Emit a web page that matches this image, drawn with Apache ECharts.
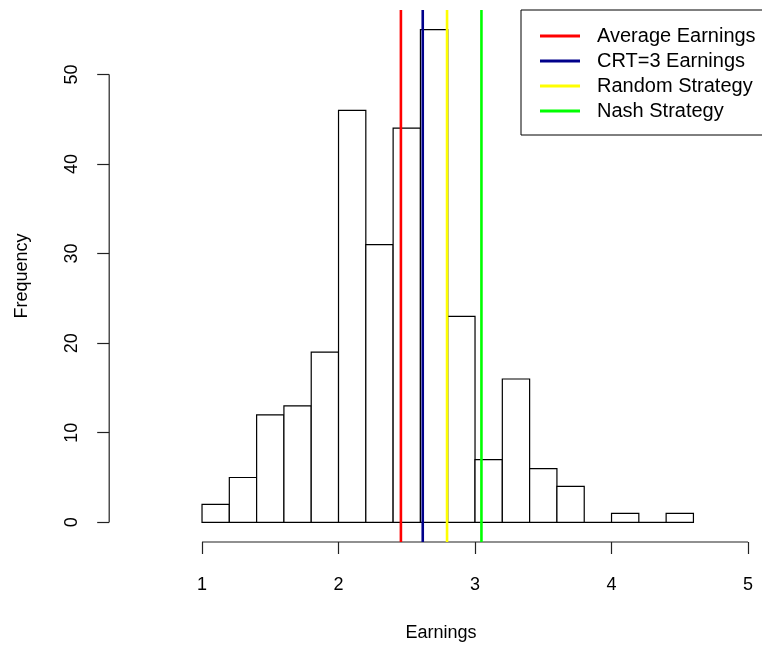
<!DOCTYPE html>
<html>
<head>
<meta charset="utf-8">
<script src="https://cdn.jsdelivr.net/npm/echarts@6/dist/echarts.min.js"></script>
<style>
html,body{margin:0;padding:0;background:#fff;overflow:hidden;}
#chart{width:800px;height:647px;}
</style>
</head>
<body>
<div id="chart"></div>
<script>
// Histogram bins (Earnings) and counts
const binStarts = [1.0,1.2,1.4,1.6,1.8,2.0,2.2,2.4,2.6,2.8,3.0,3.2,3.4,3.6,3.8,4.0,4.2,4.4];
const binEnds   = [1.2,1.4,1.6,1.8,2.0,2.2,2.4,2.6,2.8,3.0,3.2,3.4,3.6,3.8,4.0,4.2,4.4,4.6];
const counts    = [2,5,12,13,19,46,31,44,55,23,7,16,6,4,0,1,0,1];

// Reference lines
const refNames  = ['Average Earnings','CRT=3 Earnings','Random Strategy','Nash Strategy'];
const refValues = [2.457, 2.617, 2.795, 3.047];
const refColors = ['#ff0000','#00008b','#ffff00','#00ff00'];

// Axis ticks
const xTicks = [1,2,3,4,5];
const yTicks = [0,10,20,30,40,50];

const xMin = 0.32, xMax = 5.18;
const yMin = -2.2, yMax = 57.2;
const FONT = 'Liberation Sans, Arial, Helvetica, sans-serif';

const chart = echarts.init(document.getElementById('chart'), null, {renderer:'canvas'});

const barData = binStarts.map((s,i)=>[s, binEnds[i], counts[i]]);

const series = [
  {
    type:'custom',
    name:'hist',
    data: barData,
    silent:true,
    z:2,
    renderItem: function(params, api){
      const p0 = api.coord([api.value(0), api.value(2)]);
      const p1 = api.coord([api.value(1), 0]);
      return {
        type:'rect',
        shape:{x:p0[0], y:p0[1], width:p1[0]-p0[0], height:p1[1]-p0[1]},
        style:{fill:'#fff', stroke:'#000', lineWidth:1.2}
      };
    }
  },
  {
    type:'custom',
    name:'axes',
    data:[[0]],
    silent:true,
    clip:false,
    z:1,
    renderItem: function(params, api){
      const a = api.coord([xTicks[0], yMin]);
      const b = api.coord([xTicks[xTicks.length-1], yMin]);
      const c = api.coord([xMin, yTicks[0]]);
      const d = api.coord([xMin, yTicks[yTicks.length-1]]);
      return {
        type:'group',
        children:[
          {type:'line', shape:{x1:a[0],y1:a[1],x2:b[0],y2:b[1]}, style:{stroke:'#222', lineWidth:1.2}},
          {type:'line', shape:{x1:c[0],y1:c[1],x2:d[0],y2:d[1]}, style:{stroke:'#222', lineWidth:1.2}}
        ]
      };
    }
  }
];
refNames.forEach((n,i)=>{
  series.push({
    type:'line',
    name:n,
    data:[[refValues[i], yMin],[refValues[i], yMax]],
    showSymbol:false,
    symbol:'none',
    silent:true,
    z:3,
    lineStyle:{color:refColors[i], width:2.6},
    itemStyle:{color:refColors[i]}
  });
});

chart.setOption({
  animation:false,
  backgroundColor:'#fff',
  grid:{left:109.2, top:10, width:663.4, height:537, containLabel:false},
  xAxis:{
    type:'value', min:xMin, max:xMax,
    splitLine:{show:false},
    axisLine:{show:false, onZero:false},
    axisTick:{show:true, customValues:xTicks, length:12, lineStyle:{color:'#222', width:1.2}},
    axisLabel:{customValues:xTicks, fontSize:18, color:'#000', fontFamily:FONT, margin:34, formatter: v=>String(v)},
    name:'Earnings', nameLocation:'middle', nameGap:82,
    nameTextStyle:{fontSize:18, color:'#000', fontFamily:FONT}
  },
  yAxis:{
    type:'value', min:yMin, max:yMax,
    splitLine:{show:false},
    axisLine:{show:false, onZero:false},
    axisTick:{show:true, customValues:yTicks, length:12, lineStyle:{color:'#222', width:1.2}},
    axisLabel:{customValues:yTicks, rotate:90, fontSize:18, color:'#000', fontFamily:FONT, margin:28, formatter: v=>String(v)},
    name:'Frequency', nameLocation:'middle', nameGap:78, nameRotate:90,
    nameTextStyle:{fontSize:18, color:'#000', fontFamily:FONT}
  },
  legend:{
    data:refNames,
    orient:'vertical',
    left:521, top:10,
    padding:[16,14,14,19],
    itemWidth:40, itemHeight:3, itemGap:5,
    icon:'rect',
    selectedMode:false,
    borderColor:'#000', borderWidth:1,
    backgroundColor:'#fff',
    textStyle:{fontSize:20, lineHeight:20, color:'#000', fontFamily:FONT, padding:[0,0,0,12]}
  },
  series: series
});
</script>
</body>
</html>
